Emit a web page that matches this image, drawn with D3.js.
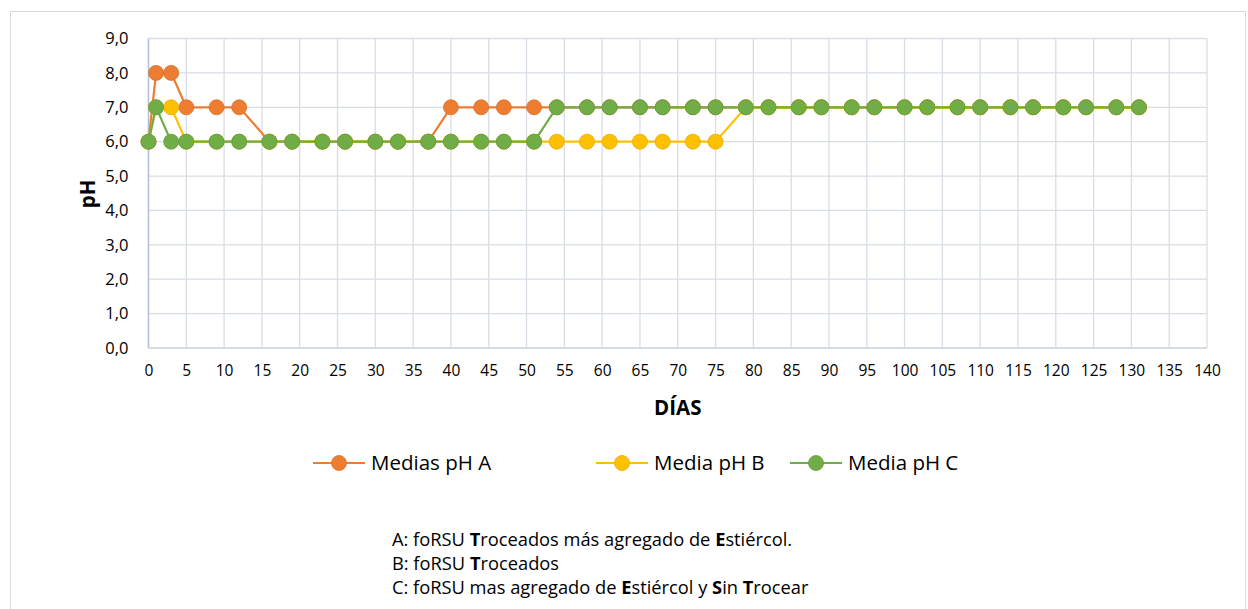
<!DOCTYPE html>
<html>
<head>
<meta charset="utf-8">
<script src="https://cdn.jsdelivr.net/npm/d3@7"></script>
<style>
  body { margin: 0; background: #fff; }
  text { font-family: "Open Sans", sans-serif; fill: #000; }
</style>
</head>
<body>
<svg id="chart" width="1248" height="609"></svg>
<script>
// days sampled
const days = [0, 1, 3, 5, 9, 12, 16, 19, 23, 26, 30, 33, 37, 40, 44, 47, 51, 54, 58, 61,
  65, 68, 72, 75, 79, 82, 86, 89, 93, 96, 100, 103, 107, 110, 114, 117, 121, 124, 128, 131]

const phA = [6, 8, 8, 7, 7, 7, 6, 6, 6, 6, 6, 6, 6, 7, 7, 7, 7, 7, 7, 7,
  7, 7, 7, 7, 7, 7, 7, 7, 7, 7, 7, 7, 7, 7, 7, 7, 7, 7, 7, 7]
const phB = [6, 7, 7, 6, 6, 6, 6, 6, 6, 6, 6, 6, 6, 6, 6, 6, 6, 6, 6, 6,
  6, 6, 6, 6, 7, 7, 7, 7, 7, 7, 7, 7, 7, 7, 7, 7, 7, 7, 7, 7]
const phC = [6, 7, 6, 6, 6, 6, 6, 6, 6, 6, 6, 6, 6, 6, 6, 6, 6, 7, 7, 7,
  7, 7, 7, 7, 7, 7, 7, 7, 7, 7, 7, 7, 7, 7, 7, 7, 7, 7, 7, 7]

const seriesNames = ['Medias pH A', 'Media pH B', 'Media pH C']
const seriesColors = ['#ED7D31', '#FFC000', '#70AD47']
const xTicks = d3.range(0, 141, 5)
const yTicks = d3.range(0, 10, 1)

const notes = [
  [['A: foRSU ', false], ['T', true], ['roceados más agregado de ', false], ['E', true], ['stiércol.', false]],
  [['B: foRSU ', false], ['T', true], ['roceados', false]],
  [['C: foRSU mas agregado de ', false], ['E', true], ['stiércol y ', false], ['S', true], ['in ', false], ['T', true], ['rocear', false]]
]

const svg = d3.select('#chart')

// chart outer border
svg.append('rect')
  .attr('x', 10.5).attr('y', 11.5)
  .attr('width', 1235).attr('height', 640)
  .attr('fill', 'none').attr('stroke', '#d9d9d9')

const M = { left: 148.5, right: 1207, top: 38.5, bottom: 348 }

const x = d3.scaleLinear().domain([0, 140]).range([M.left, M.right])
const y = d3.scaleLinear().domain([0, 9]).range([M.bottom, M.top])

// grid
const grid = svg.append('g')
grid.selectAll('.hg').data(yTicks).enter().append('line')
  .attr('x1', M.left).attr('x2', M.right)
  .attr('y1', d => y(d)).attr('y2', d => y(d))
  .attr('stroke', '#d9dde6').attr('stroke-width', 1.3)
grid.selectAll('.vg').data(xTicks).enter().append('line')
  .attr('x1', d => x(d)).attr('x2', d => x(d))
  .attr('y1', M.top).attr('y2', M.bottom)
  .attr('stroke', '#d9dde6').attr('stroke-width', 1.3)

// axes lines
svg.append('line')
  .attr('x1', M.left).attr('x2', M.left).attr('y1', M.top).attr('y2', M.bottom)
  .attr('stroke', '#b4c1d9').attr('stroke-width', 1.5)
svg.append('line')
  .attr('x1', M.left).attr('x2', M.right).attr('y1', M.bottom).attr('y2', M.bottom)
  .attr('stroke', '#d0d6e2').attr('stroke-width', 1.5)

// y tick labels
const yAxis = d3.axisLeft(y).tickValues(yTicks).tickSize(0).tickPadding(20)
  .tickFormat(d => d3.format('.1f')(d).replace('.', ','))
svg.append('g').attr('transform', `translate(${M.left},0)`).call(yAxis)
  .call(g => g.select('.domain').remove())
  .selectAll('text').style('font-size', '16.5px').style('font-family', '"Open Sans", sans-serif')

// x tick labels
const xAxis = d3.axisBottom(x).tickValues(xTicks).tickSize(0).tickPadding(17)
svg.append('g').attr('transform', `translate(0,${M.bottom})`).call(xAxis)
  .call(g => g.select('.domain').remove())
  .selectAll('text').style('font-size', '15.5px').style('font-family', '"Open Sans", sans-serif')

// axis titles
svg.append('text')
  .attr('x', (M.left + M.right) / 2).attr('y', 415)
  .attr('text-anchor', 'middle')
  .style('font-size', '20.5px').style('font-weight', 'bold')
  .text('DÍAS')
svg.append('text')
  .attr('transform', 'translate(95,194) rotate(-90)')
  .attr('text-anchor', 'middle')
  .style('font-size', '20.5px').style('font-weight', 'bold')
  .text('pH')

// series
const allSeries = [phA, phB, phC]
const line = d3.line().x(d => x(d.day)).y(d => y(d.v))

allSeries.forEach((vals, i) => {
  const pts = days.map((d, j) => ({ day: d, v: vals[j] }))
  const g = svg.append('g')
  g.append('path')
    .attr('d', line(pts))
    .attr('fill', 'none')
    .attr('stroke', seriesColors[i])
    .attr('stroke-width', 2.2)
  g.selectAll('circle').data(pts).enter().append('circle')
    .attr('cx', d => x(d.day)).attr('cy', d => y(d.v))
    .attr('r', 7.5)
    .attr('fill', seriesColors[i])
    .attr('stroke', d3.color(seriesColors[i]).darker(0.3))
    .attr('stroke-width', 0.8)
})

// legend
const legendX = [313, 596, 790]
const leg = svg.append('g')
seriesNames.forEach((name, i) => {
  const lx = legendX[i], ly = 463
  leg.append('line')
    .attr('x1', lx).attr('x2', lx + 52).attr('y1', ly).attr('y2', ly)
    .attr('stroke', seriesColors[i]).attr('stroke-width', 2.2)
  leg.append('circle')
    .attr('cx', lx + 26).attr('cy', ly).attr('r', 7.5)
    .attr('fill', seriesColors[i])
    .attr('stroke', d3.color(seriesColors[i]).darker(0.3)).attr('stroke-width', 0.8)
  leg.append('text')
    .attr('x', lx + 58).attr('y', ly + 7)
    .style('font-size', '20.5px')
    .text(name)
})

// notes below
notes.forEach((parts, i) => {
  const t = svg.append('text')
    .attr('x', 392).attr('y', 546 + i * 24)
    .style('font-size', '18.3px')
  parts.forEach(p => {
    t.append('tspan').style('font-weight', p[1] ? 'bold' : 'normal').text(p[0])
  })
})
</script>
</body>
</html>
